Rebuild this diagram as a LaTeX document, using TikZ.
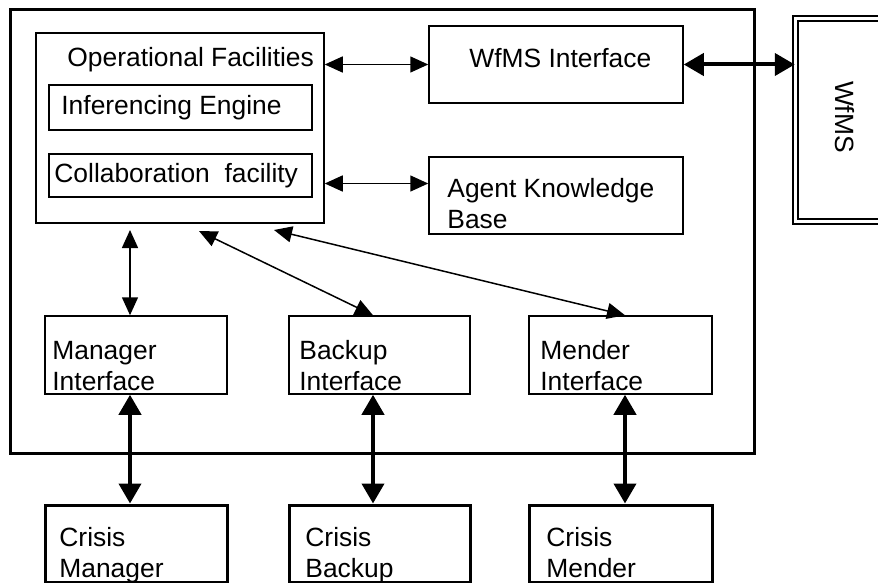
\documentclass[tikz,border=0pt]{standalone}
\usepackage{fontspec}
\setmainfont{Liberation Sans}
\usetikzlibrary{arrows.meta}

\begin{document}
\begin{tikzpicture}[x=0.5pt, y=-0.5pt, font=\fontsize{13.2pt}{15.5pt}\selectfont,
		box/.style={draw, line width=0.75pt, inner sep=0pt},
		heavybox/.style={draw, line width=1.5pt, inner sep=0pt},
		lbl/.style={anchor=base west, inner sep=0pt, align=left},
		link/.style={line width=0.75pt, {Triangle[length=9pt,width=8pt]}-{Triangle[length=9pt,width=8pt]}},
		heavylink/.style={line width=2pt, {Triangle[length=10pt,width=11pt]}-{Triangle[length=10pt,width=11pt]}}]
		\useasboundingbox (0,0) rectangle (878,583);
		\clip (0,0) rectangle (878,583);
		
		\draw (382,231.5) node[heavybox, minimum width=372pt, minimum height=221.5pt] (sys) {}
		(180,128) node[box, minimum width=144pt, minimum height=95pt] (of) {}
		(180.5,107.5) node[box, minimum width=131.5pt, minimum height=22.5pt] (ie) {}
		(180.5,175.5) node[box, minimum width=131.5pt, minimum height=21.5pt] (cf) {}
		(556,64.5) node[box, minimum width=127pt, minimum height=38.5pt] (wfi) {}
		(556,195.5) node[box, minimum width=127pt, minimum height=38.5pt] (akb) {}
		(846.75,120) node[draw, inner sep=0pt, line width=0.7pt, double, double distance=1.8pt, minimum width=51.25pt, minimum height=101.5pt] (wfms) {}
		(136,355) node[box, minimum width=91pt, minimum height=39pt] (mi) {}
		(379.5,355) node[box, minimum width=90.5pt, minimum height=39pt] (bi) {}
		(620.5,355) node[box, minimum width=91.5pt, minimum height=39pt] (ni) {}
		(136,543.5) node[heavybox, minimum width=91pt, minimum height=38.5pt] (cm) {}
		(379.5,543.5) node[heavybox, minimum width=90.5pt, minimum height=38.5pt] (cb) {}
		(620.5,543.5) node[heavybox, minimum width=91.5pt, minimum height=38.5pt] (cn) {};
		
		\draw (67,67) node[lbl] (oft) {Operational Facilities}
		(61,115) node[lbl] (iet) {Inferencing Engine}
		(54,183) node[lbl] (cft) {Collaboration\ \ facility}
		(469,68) node[lbl] (wfit) {WfMS Interface}
		(447,228) node[lbl] (akbt) {Agent Knowledge\\Base}
		(845,117) node[rotate=-90, inner sep=0pt] (wfmst) {WfMS}
		(52,390) node[lbl] (mit) {Manager\\Interface}
		(299,390) node[lbl] (bit) {Backup\\Interface}
		(540,390) node[lbl] (nit) {Mender\\Interface}
		(59,577) node[lbl] (cmt) {Crisis\\Manager}
		(305,577) node[lbl] (cbt) {Crisis\\Backup}
		(546,577) node[lbl] (cnt) {Crisis\\Mender};
		
		\coordinate (akbin) at ([yshift=6pt]akb.west);
		\coordinate (ofm) at (130,230);
		\coordinate (ofb) at (199,231);
		\coordinate (ofn) at (274,230);
		
		\draw[link] (wfi.west -| of.east) -- (wfi.west);
		\draw[link] (akbin -| of.east) -- (akbin);
		\draw[heavylink] (wfi.east) -- (wfi.east -| wfms.west);
		\draw[link] (ofm) -- (ofm |- mi.north);
		\draw[link] (ofb) -- ([xshift=-3.25pt]bi.north);
		\draw[link] (ofn) -- ([xshift=2.25pt]ni.north);
		\draw[heavylink] ([xshift=-3pt]mi.south) -- ([xshift=-3pt]cm.north);
		\draw[heavylink] ([xshift=-3.25pt]bi.south) -- ([xshift=-3.25pt]cb.north);
		\draw[heavylink] ([xshift=2.25pt]ni.south) -- ([xshift=2.25pt]cn.north);
	\end{tikzpicture}
\end{document}
